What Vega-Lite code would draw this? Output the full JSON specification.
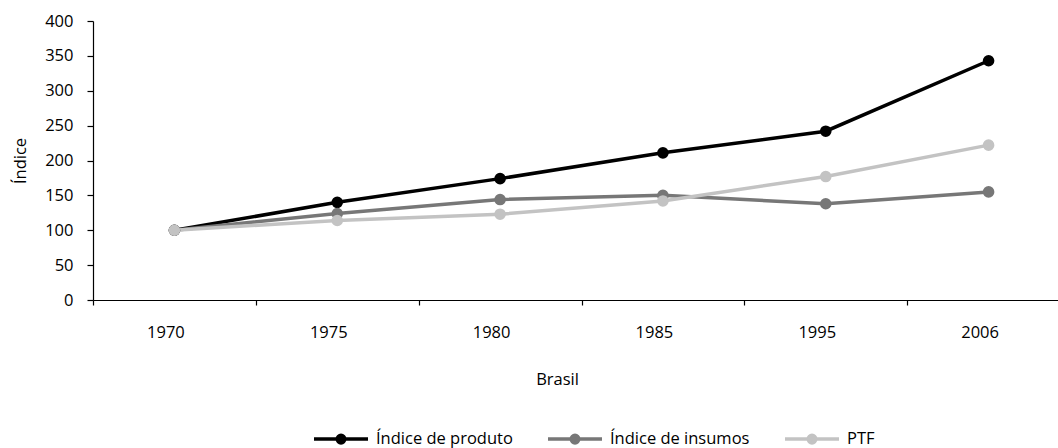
{
  "$schema": "https://vega.github.io/schema/vega-lite/v6.json",
  "width": 965,
  "height": 279,
  "autosize": {"type": "none"},
  "padding": {"left": 93, "top": 21, "right": 0, "bottom": 148},
  "background": "white",
  "config": {
    "view": {"stroke": null},
    "font": "Open Sans"
  },
  "data": {
    "values": [
      {"ano": "1970", "serie": "Índice de produto", "valor": 100},
      {"ano": "1975", "serie": "Índice de produto", "valor": 140},
      {"ano": "1980", "serie": "Índice de produto", "valor": 174},
      {"ano": "1985", "serie": "Índice de produto", "valor": 211},
      {"ano": "1995", "serie": "Índice de produto", "valor": 242},
      {"ano": "2006", "serie": "Índice de produto", "valor": 343},
      {"ano": "1970", "serie": "Índice de insumos", "valor": 100},
      {"ano": "1975", "serie": "Índice de insumos", "valor": 124},
      {"ano": "1980", "serie": "Índice de insumos", "valor": 144},
      {"ano": "1985", "serie": "Índice de insumos", "valor": 150},
      {"ano": "1995", "serie": "Índice de insumos", "valor": 138},
      {"ano": "2006", "serie": "Índice de insumos", "valor": 155},
      {"ano": "1970", "serie": "PTF", "valor": 100},
      {"ano": "1975", "serie": "PTF", "valor": 114},
      {"ano": "1980", "serie": "PTF", "valor": 123},
      {"ano": "1985", "serie": "PTF", "valor": 142},
      {"ano": "1995", "serie": "PTF", "valor": 177},
      {"ano": "2006", "serie": "PTF", "valor": 222}
    ]
  },
  "mark": {"type": "line", "strokeWidth": 3.5, "point": {"filled": true, "size": 135, "opacity": 1}},
  "encoding": {
    "x": {
      "field": "ano", "type": "ordinal", "sort": null,
      "scale": {"type": "band", "range": [0, 977], "paddingInner": 0, "paddingOuter": 0},
      "axis": {"title": "Brasil", "labelAngle": 0, "labelOffset": -9, "tickBand": "extent", "tickSize": 5, "labelPadding": 19, "titlePadding": 31, "titleX": 464, "domainWidth": 1.2, "tickWidth": 1.2, "domainColor": "black", "tickColor": "black", "labelColor": "black", "titleColor": "black", "labelFont": "Open Sans", "titleFont": "Open Sans", "labelFontSize": 16.5, "titleFontSize": 16.5, "titleFontWeight": "normal", "grid": false}
    },
    "y": {
      "field": "valor", "type": "quantitative",
      "scale": {"domain": [0, 400], "nice": false},
      "axis": {"title": "Índice", "values": [0, 50, 100, 150, 200, 250, 300, 350, 400], "tickSize": 6, "labelPadding": 14, "titlePadding": 16, "domainWidth": 1.2, "tickWidth": 1.2, "domainColor": "black", "tickColor": "black", "labelColor": "black", "titleColor": "black", "labelFont": "Open Sans", "titleFont": "Open Sans", "labelFontSize": 16.5, "titleFontSize": 16.5, "titleFontWeight": "normal", "grid": false}
    },
    "color": {
      "field": "serie", "type": "nominal", "sort": ["Índice de produto", "Índice de insumos", "PTF"],
      "scale": {"domain": ["Índice de produto", "Índice de insumos", "PTF"], "range": ["#000000", "#777777", "#c3c3c3"]},
      "legend": {
        "title": null, "orient": "none", "direction": "horizontal", "legendX": 219, "legendY": 389, "padding": 0,
        "symbolType": "M-1,0L1,0M-0.14,0A0.14,0.14,0,1,1,0.14,0A0.14,0.14,0,1,1,-0.14,0Z",
        "symbolSize": 2916, "symbolStrokeWidth": 3.5, "symbolOpacity": 1,
        "labelOffset": 6, "columnPadding": 28, "labelFont": "Open Sans", "labelFontSize": 16.5, "labelColor": "black",
        "encode": {"symbols": {"update": {"fill": {"scale": "color", "field": "value"}, "stroke": {"scale": "color", "field": "value"}}}}
      }
    }
  }
}
